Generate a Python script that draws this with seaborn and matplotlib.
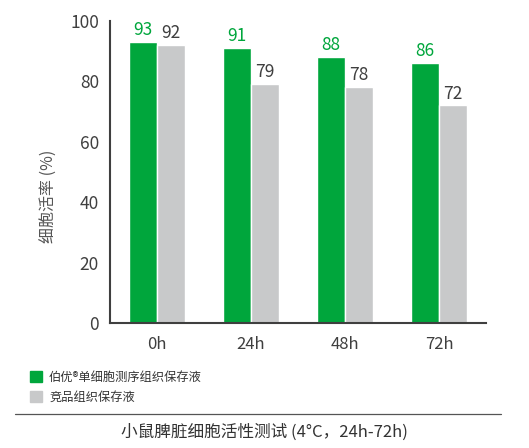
import pandas as pd
import seaborn as sns
import matplotlib.pyplot as plt
from matplotlib.lines import Line2D
from matplotlib.patches import Patch

# ==============================
# Data
# ==============================
times = ["0h", "24h", "48h", "72h"]
ours = [93, 91, 88, 86]
competitor = [92, 79, 78, 72]
series_names = ["伯优®单细胞测序组织保存液", "竞品组织保存液"]

GREEN = "#00a63c"
GRAY = "#c8c9ca"
DARK = "#3f3f3f"

df = pd.DataFrame({
    "Time": times * 2,
    "Viability": ours + competitor,
    "Group": [series_names[0]] * 4 + [series_names[1]] * 4,
})

# ==============================
# Visualization Settings
# ==============================
sns.set_style("white")
plt.rcParams["font.family"] = ["Noto Sans CJK SC", "DejaVu Sans"]

fig = plt.figure(figsize=(5.29, 4.48), dpi=100)
ax = fig.add_axes([0.208, 0.279, 0.711, 0.675])

sns.barplot(
    data=df, x="Time", y="Viability", hue="Group",
    palette=[GREEN, GRAY], width=0.6, errorbar=None,
    saturation=1, ax=ax, legend=False
)

# value labels
for container, col in zip(ax.containers, [GREEN, DARK]):
    ax.bar_label(container, padding=2, fontsize=12.5, color=col)

ax.set_ylim(0, 100)
ax.set_xlim(-0.5, 3.5)
ax.set_yticks([0, 20, 40, 60, 80, 100])
ax.set_xticks([-0.5, 0.5, 1.5, 2.5, 3.5], minor=True)
ax.tick_params(axis="x", which="major", length=0, pad=9, labelsize=12, labelcolor=DARK)
ax.tick_params(axis="x", which="minor", length=6, width=1.5, color=DARK, direction="out")
ax.tick_params(axis="y", length=6, width=1.5, color=DARK, labelsize=12.5, labelcolor=DARK, pad=2)

sns.despine(ax=ax)
for s in ["left", "bottom"]:
    ax.spines[s].set_color(DARK)
    ax.spines[s].set_linewidth(1.5)

ax.set_xlabel("")
ax.set_ylabel("细胞活率 (%)", fontsize=11.5, color="#555555")
ax.yaxis.set_label_coords(-0.138, 0.42)

# legend
handles = [Patch(color=GREEN), Patch(color=GRAY)]
fig.legend(handles, series_names, loc="upper left", bbox_to_anchor=(0.035, 0.197),
           frameon=False, fontsize=8.8, handlelength=1.0, handleheight=1.0,
           handletextpad=0.6, labelspacing=0.55, labelcolor="#333333")

# separator line and caption
fig.add_artist(Line2D([0.028, 0.947], [0.075, 0.075], color="#555555", lw=0.9))
fig.text(0.5, 0.035, "小鼠脾脏细胞活性测试 (4°C，24h-72h)", ha="center", va="center",
         fontsize=12, color="#333333")

fig.savefig("out.png", dpi=100)
